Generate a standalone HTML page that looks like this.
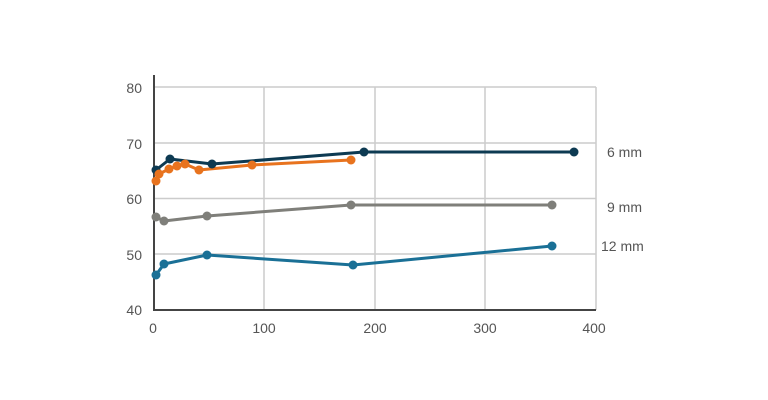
<!DOCTYPE html>
<html><head><style>body{margin:0;background:#fff}svg{display:block}text{font-family:"Liberation Sans",sans-serif;fill:#555;font-size:14px}</style></head><body>
<svg width="768" height="400" xmlns="http://www.w3.org/2000/svg">
<g stroke="#ccc" stroke-width="1.5">
<line x1="154" y1="87" x2="596" y2="87"/><line x1="154" y1="143" x2="596" y2="143"/><line x1="154" y1="198.5" x2="596" y2="198.5"/><line x1="154" y1="254" x2="596" y2="254"/>
<line x1="264" y1="87" x2="264" y2="310"/><line x1="375" y1="87" x2="375" y2="310"/><line x1="485" y1="87" x2="485" y2="310"/><line x1="596" y1="87" x2="596" y2="310"/>
</g>
<g stroke="#444" stroke-width="2"><line x1="154" y1="75" x2="154" y2="311"/><line x1="153" y1="310" x2="596" y2="310"/></g>
<g text-anchor="end"><text x="142" y="93">80</text><text x="142" y="149">70</text><text x="142" y="204">60</text><text x="142" y="260">50</text><text x="142" y="315">40</text></g>
<g text-anchor="middle"><text x="153" y="333">0</text><text x="264" y="333">100</text><text x="375" y="333">200</text><text x="485" y="333">300</text><text x="594" y="333">400</text></g>
<text x="607" y="157">6 mm</text><text x="607" y="212">9 mm</text><text x="601" y="251">12 mm</text>
<g fill="none" stroke-width="3" stroke-linejoin="round">
<polyline stroke="#0d3a52" points="156,170 170,159 212,164 364,152 574,152"/>
<polyline stroke="#e8731e" points="156,181 159,174 169,169 177,166 185,164 199,170 252,165 351,160"/>
<polyline stroke="#7f7f7a" points="156,217 164,221 207,216 351,205 552,205"/>
<polyline stroke="#1a7096" points="156,275 164,264 207,255 353,265 552,246"/>
</g>
<g fill="#0d3a52"><circle cx="156" cy="170" r="4.5"/><circle cx="170" cy="159" r="4.5"/><circle cx="212" cy="164" r="4.5"/><circle cx="364" cy="152" r="4.5"/><circle cx="574" cy="152" r="4.5"/></g>
<g fill="#e8731e"><circle cx="156" cy="181" r="4.5"/><circle cx="159" cy="174" r="4.5"/><circle cx="169" cy="169" r="4.5"/><circle cx="177" cy="166" r="4.5"/><circle cx="185" cy="164" r="4.5"/><circle cx="199" cy="170" r="4.5"/><circle cx="252" cy="165" r="4.5"/><circle cx="351" cy="160" r="4.5"/></g>
<g fill="#7f7f7a"><circle cx="156" cy="217" r="4.5"/><circle cx="164" cy="221" r="4.5"/><circle cx="207" cy="216" r="4.5"/><circle cx="351" cy="205" r="4.5"/><circle cx="552" cy="205" r="4.5"/></g>
<g fill="#1a7096"><circle cx="156" cy="275" r="4.5"/><circle cx="164" cy="264" r="4.5"/><circle cx="207" cy="255" r="4.5"/><circle cx="353" cy="265" r="4.5"/><circle cx="552" cy="246" r="4.5"/></g>
</svg>
</body></html>
